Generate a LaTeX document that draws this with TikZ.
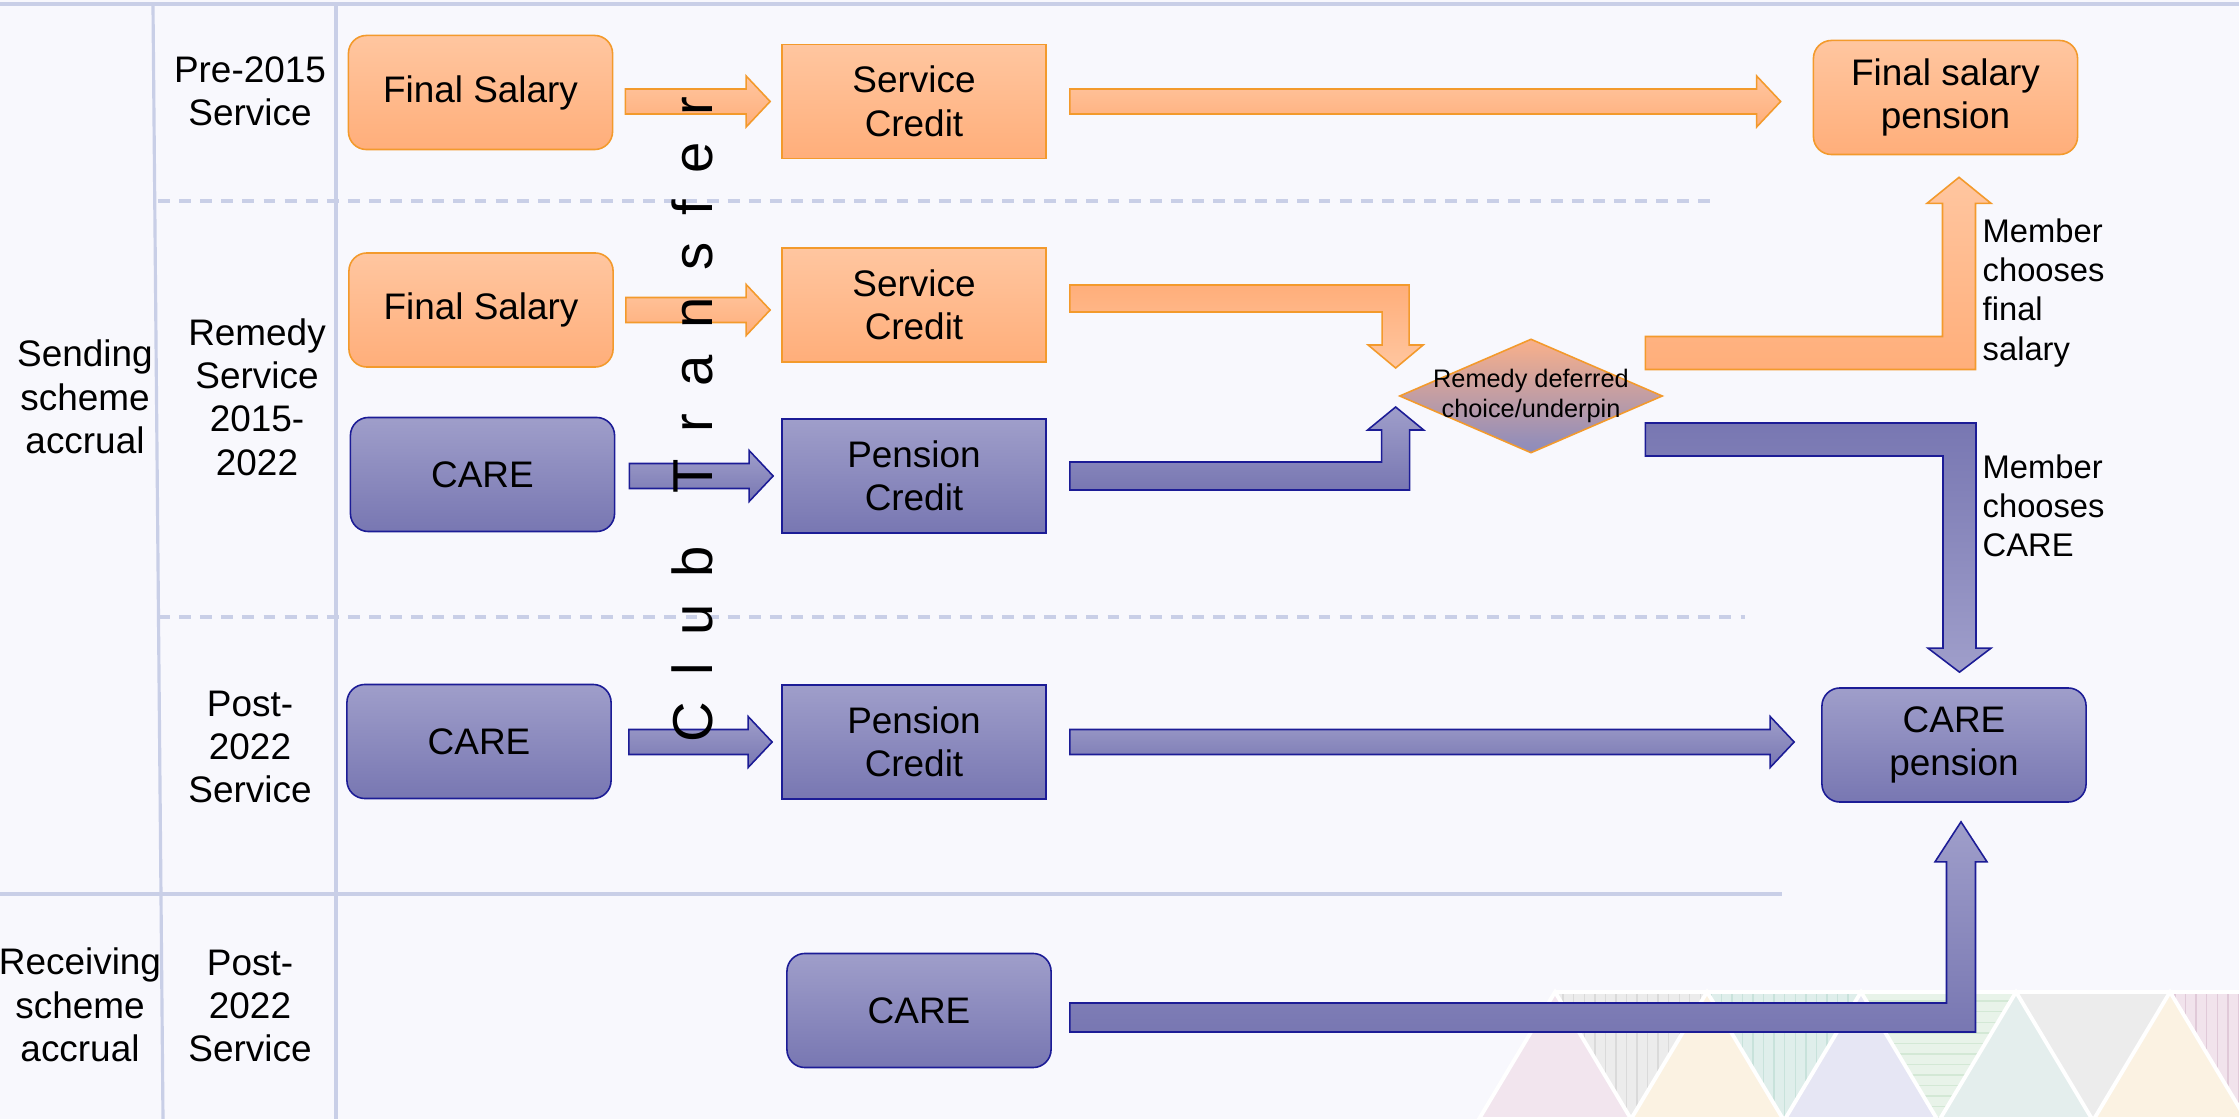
\documentclass[tikz,border=0pt]{standalone}
\usepackage{fontspec}
\setmainfont{Liberation Sans}
\usepackage{tikz}
\usetikzlibrary{calc,shapes.geometric,patterns}
\definecolor{bgpage}{HTML}{F8F8FD}
\definecolor{gridline}{HTML}{C9CFE7}
\definecolor{ortop}{HTML}{FFC6A0}
\definecolor{orbot}{HTML}{FFAE7A}
\definecolor{orline}{HTML}{F39A2C}
\definecolor{putop}{HTML}{9F9ECA}
\definecolor{pubot}{HTML}{7877B2}
\definecolor{puline}{HTML}{1C1C96}
\definecolor{dmtop}{HTML}{F9B08A}
\definecolor{dmbot}{HTML}{8B8BBD}
\definecolor{bunpink}{HTML}{F2E5EE}
\definecolor{buncream}{HTML}{FBF2E2}
\definecolor{bunlav}{HTML}{E6E6F4}
\definecolor{bunteal}{HTML}{E4EEED}
\definecolor{bungray}{HTML}{ECECEC}
\definecolor{bungrayl}{HTML}{DADADA}
\definecolor{bunmint}{HTML}{DFEEEB}
\definecolor{bunmintl}{HTML}{C8E2DB}
\definecolor{bungreen}{HTML}{E8F3E9}
\definecolor{bungreenl}{HTML}{D3E8D5}
\definecolor{bunrose}{HTML}{F1E3EC}
\definecolor{bunrosel}{HTML}{E0C9D8}
\tikzset{
    boxbase/.style={minimum width=2.64cm, minimum height=1.14cm, inner sep=0pt, align=center,
        line width=0.45pt, font=\fontsize{10.5}{12.4}\selectfont},
    orrect/.style={boxbase, draw=orline, top color=ortop, bottom color=orbot},
    orround/.style={orrect, rounded corners=0.18cm},
    purect/.style={boxbase, draw=puline, top color=putop, bottom color=pubot},
    puround/.style={purect, rounded corners=0.18cm},
    decision/.style={shape=diamond, draw=orline, top color=dmtop, bottom color=dmbot, line width=0.45pt,
        minimum width=2.63cm, minimum height=1.14cm, inner sep=0pt, align=center,
        font=\fontsize{7.2}{8.5}\selectfont},
    lanelabel/.style={align=center, inner sep=0pt, font=\fontsize{10.5}{12.3}\selectfont},
    choicelabel/.style={align=left, anchor=west, inner sep=0pt, font=\fontsize{9.3}{11.1}\selectfont},
    orarrow/.style={draw=orline, top color=ortop, bottom color=orbot, line width=0.45pt},
    orarrowflip/.style={draw=orline, top color=orbot, bottom color=ortop, line width=0.45pt},
    puarrow/.style={draw=puline, top color=putop, bottom color=pubot, line width=0.45pt},
    puarrowflip/.style={draw=puline, top color=pubot, bottom color=putop, line width=0.45pt},
    gridrule/.style={draw=gridline, line width=0.9pt}
}
\newcommand{\flowarrow}[3]{%
    \coordinate (fa-s) at (#2);
    \coordinate (fa-e) at (#3);
    \path[#1] ($(fa-s)+(0,-12.5)$) -- ($(fa-e)+(-24,-12.5)$) -- ($(fa-e)+(-24,-25.5)$) -- (fa-e)
        -- ($(fa-e)+(-24,25.5)$) -- ($(fa-e)+(-24,12.5)$) -- ($(fa-s)+(0,12.5)$) -- cycle;}
\newcommand{\bendarrow}[7]{%
    \coordinate (ba-s) at (#2);
    \coordinate (ba-e) at (#3);
    \path[#1] ($(ba-s)+(0,{-(#7)*(#4)})$) -- ($(ba-e |- ba-s)+(#4,{-(#7)*(#4)})$)
        -- ($(ba-e)+(#4,{-(#7)*(#6)})$) -- ($(ba-e)+(#5,{-(#7)*(#6)})$) -- (ba-e)
        -- ($(ba-e)+(-#5,{-(#7)*(#6)})$) -- ($(ba-e)+(-#4,{-(#7)*(#6)})$)
        -- ($(ba-e |- ba-s)+(-#4,{(#7)*(#4)})$) -- ($(ba-s)+(0,{(#7)*(#4)})$) -- cycle;}

\begin{document}
\begin{tikzpicture}[x=0.01cm, y=-0.01cm]
    \useasboundingbox (0,0) rectangle (2239,1119);
    \fill[bgpage] (0,0) rectangle (2239,1119);

    \begin{scope}
        \clip (0,0) rectangle (2239,1119);
        \foreach \ax/\col/\lcol/\pat in {1555/bungray/bungrayl/vertical lines, 1707/bunmint/bunmintl/vertical lines,
                1861/bungreen/bungreenl/horizontal lines, 2170/bunrose/bunrosel/vertical lines} {
            \fill[\col] (\ax,992) -- (\ax+154,992) -- (\ax+77,1119) -- cycle;
            \fill[pattern=\pat, pattern color=\lcol] (\ax,992) -- (\ax+154,992) -- (\ax+77,1119) -- cycle;
        }
        \fill[bungray] (2016,992) -- (2170,992) -- (2093,1119) -- cycle;
        \foreach \ax/\col in {1555/bunpink, 1707/buncream, 1861/bunlav, 2016/bunteal, 2170/buncream}
            \filldraw[fill=\col, draw=white, line width=1.1pt] (\ax,992) -- (\ax+76,1119) -- (\ax-76,1119) -- cycle;
        \draw[white, line width=1.1pt] (1555,992) -- (2239,992);
    \end{scope}

    \draw[draw=gridline, line width=1.1pt] (0,4) -- (2239,4);
    \draw[gridrule] (153,6) -- (163,1119);
    \draw[gridrule] (336,6) -- (336,1119);
    \draw[gridrule] (0,894) -- (1782,894);
    \draw[gridrule, line width=1pt, dash pattern=on 3.4pt off 2.6pt] (158,201) -- (1717,201);
    \draw[gridrule, line width=1pt, dash pattern=on 3.4pt off 2.6pt] (158,617) -- (1745,617);

    \node[lanelabel] (lsend) at (85,397) {Sending\\scheme\\accrual};
    \node[lanelabel] (lrecv) at (80,1005) {Receiving\\scheme\\accrual};
    \node[lanelabel] (lpre) at (250,91) {Pre-2015\\Service};
    \node[lanelabel] (lrem) at (257,397) {Remedy\\Service\\2015-\\2022};
    \node[lanelabel] (lpost) at (250,747) {Post-\\2022\\Service};
    \node[lanelabel] (lrpost) at (250,1006) {Post-\\2022\\Service};

    \node[orround] (fs1) at (480.5,92.5) {Final Salary};
    \node[orrect] (sc1) at (914,101.5) {Service\\Credit};
    \node[orround] (fsp) at (1945.5,97.5) {Final salary\\pension};
    \node[orround] (fs2) at (481,310) {Final Salary};
    \node[orrect] (sc2) at (914,305) {Service\\Credit};
    \node[puround] (care3) at (482.5,474.5) {CARE};
    \node[purect] (pc3) at (914,476) {Pension\\Credit};
    \node[puround] (care4) at (479,741.5) {CARE};
    \node[purect] (pc4) at (914,742) {Pension\\Credit};
    \node[puround] (carep) at (1954,745) {CARE\\pension};
    \node[puround] (care5) at (919,1010.5) {CARE};
    \node[decision] (rdc) at (1531,396) {\raisebox{1.2pt}{\makebox[0pt]{Remedy deferred}}\\\raisebox{1.2pt}{\makebox[0pt]{choice/underpin}}};

    \flowarrow{orarrow}{$(fs1.east |- sc1.west)+(12,0)$}{$(sc1.west)+(-11,0)$}
    \flowarrow{orarrow}{$(sc1.east)+(23,0)$}{$(fsp.west |- sc1.east)+(-32,0)$}
    \flowarrow{orarrow}{$(fs2.east)+(12,0)$}{$(sc2.west |- fs2.east)+(-11,0)$}
    \flowarrow{puarrow}{$(care3.east |- pc3.west)+(14,0)$}{$(pc3.west)+(-8,0)$}
    \flowarrow{puarrow}{$(care4.east |- pc4.west)+(17,0)$}{$(pc4.west)+(-9,0)$}
    \flowarrow{puarrow}{$(pc4.east)+(23,0)$}{$(carep.west |- pc4.east)+(-27,0)$}

    \bendarrow{orarrowflip}{$(sc2.east)+(23,-6.5)$}{$(rdc.west)+(-3,-28)$}{13.5}{27.5}{23}{1}
    \bendarrow{puarrow}{$(pc3.east)+(23,0)$}{$(rdc.west)+(-3,11)$}{14}{28}{23}{-1}
    \bendarrow{orarrow}{$(rdc.east)+(-18,-43)$}{$(fsp.south)+(13.5,22)$}{16.5}{32}{26}{-1}
    \bendarrow{puarrowflip}{$(rdc.east)+(-18,43.5)$}{$(carep.north)+(5.5,-15)$}{16.5}{31.5}{24}{1}
    \bendarrow{puarrow}{$(care5.east)+(18,7)$}{$(carep.south)+(7,19)$}{14.5}{26}{40}{-1}

    \node[choicelabel] (chfs) at (1982,293) {Member\\chooses\\final\\salary};
    \node[choicelabel] (chcare) at (1982,506) {Member\\chooses\\CARE};

    \node[rotate=90, inner sep=0pt, font=\fontsize{16}{16}\selectfont] (club) at (692,419.5)
        {\spaceskip=7.6pt C l u b~ T r a n s f e r};
\end{tikzpicture}
\end{document}
